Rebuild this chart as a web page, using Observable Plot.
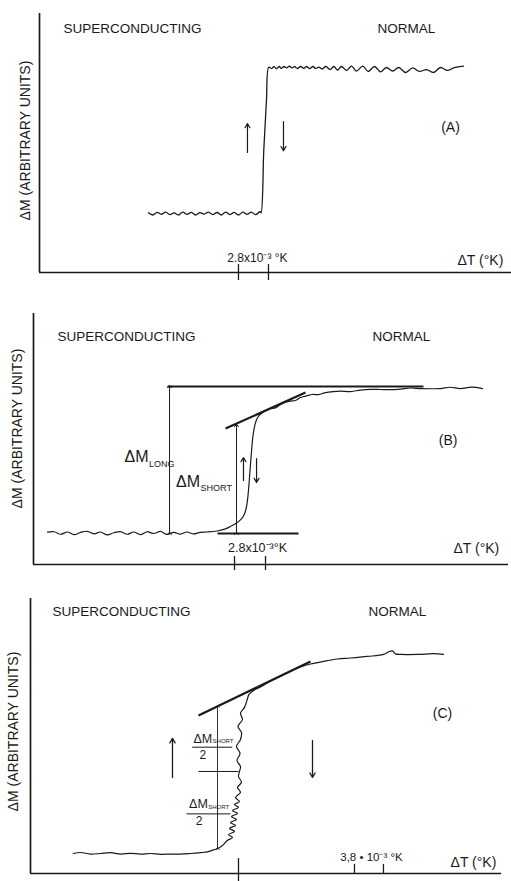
<!DOCTYPE html>
<html><head><meta charset="utf-8">
<script src="https://cdn.jsdelivr.net/npm/d3@7"></script>
<script src="https://cdn.jsdelivr.net/npm/@observablehq/plot@0.6"></script>
<style>
body{margin:0;background:#fff;}
#chart{width:511px;height:881px;overflow:hidden;background:#fff;}
#chart svg{display:block;}
</style></head><body><div id="chart"></div>
<script>
// ΔT in units of 10^-3 °K (relative), ΔM in arbitrary units (superconducting = 0, normal = 10)
const regionLabels = ["SUPERCONDUCTING", "NORMAL"];
const panelLabels = ["(A)", "(B)", "(C)"];
const yLabel = "ΔM (ARBITRARY UNITS)";
const xLabel = "ΔT (°K)";
const tickLabelAB = ["2.8x10⁻³ °K", "2.8x10⁻³°K"];
const tickLabelC = "3,8 • 10⁻³ °K";

// Panel A trace
const aT = [-8.4,-8.0,-7.6,-7.2,-6.8,-6.4,-6.0,-5.6,-5.2,-4.8,-4.4,-4.0,-3.6,-3.2,-2.8,-2.4,-2.0,-1.6,-1.2,-0.8,-0.4,0.0,0.4,0.8,1.2,1.6,2.0,
  2.1,2.36,2.61,2.83,
  3.1,3.3,3.55,3.8,4.0,4.25,4.5,4.75,5.0,5.25,5.5,5.8,6.1,6.35,6.65,6.95,7.2,7.5,7.8,8.15,8.55,8.9,9.25,9.6,10.1,10.55,11.0,11.6,12.1,12.7,13.25,13.8,14.4,14.95,15.6,16.25,16.9,17.55,18.2,18.85,19.5,20.15,21.0];
const aM = [0.05,-0.1,0.08,-0.05,0.1,-0.08,0.04,-0.1,0.1,-0.06,0.08,-0.1,0.06,-0.04,0.1,-0.08,0.07,-0.1,0.1,-0.07,0.08,-0.1,0.09,-0.06,0.1,-0.08,0.12,
  0.05,4.32,7.74,10.02,
  9.93,10.06,9.92,10.07,9.94,10.07,9.98,10.1,9.97,10.06,9.93,10.07,9.94,10.07,9.93,10.07,9.93,10.03,9.9,10.07,9.86,10.07,9.83,10.07,9.8,10.1,9.76,10.1,9.73,10.07,9.7,10.0,9.76,10.0,9.66,9.97,9.73,9.86,9.66,10.0,9.8,10.0,10.1];
const aTicks = [0, 2.8];
const aArrowT = [0.84, 4.2], aArrowFrom = [4.18, 6.3], aArrowTo = [6.16, 4.3];

// Panel B trace
const bT = [-16.9,-16.3,-15.7,-15.1,-14.5,-13.9,-13.3,-12.7,-12.1,-11.5,-10.9,-10.3,-9.7,-9.1,-8.5,-7.9,-7.3,-6.7,-6.1,-5.5,-4.9,-4.3,-3.7,-3.1,-2.5,
  -1.56,-0.81,-0.36,0.18,0.63,0.95,1.13,1.26,1.40,1.54,1.67,1.85,2.08,2.53,2.9,3.25,3.7,4.16,4.6,5.06,5.5,5.96,6.5,7.05,7.6,8.22,8.9,9.58,10.5,11.38,12.3,13.19,14.1,15.0,15.9,16.8,17.7,18.6,19.5,20.4,21.4,22.4];
const bM = [0.09,0.12,-0.05,0.1,-0.08,0.08,0.15,-0.02,0.1,-0.1,0.05,0.13,-0.05,0.1,-0.08,0.12,0.0,0.14,-0.06,0.08,-0.04,0.1,-0.03,0.08,0.1,
  0.17,0.31,0.48,0.71,0.99,1.43,2.04,2.93,4.29,5.65,6.67,7.41,7.89,8.23,8.40,8.50,8.55,8.78,8.93,9.01,9.05,9.25,9.36,9.46,9.45,9.59,9.66,9.69,9.66,9.76,9.81,9.80,9.79,9.83,9.9,9.86,9.85,9.86,9.95,9.86,9.96,9.86];
const bTicks = [0, 2.8];
const bNormalLineT = [-6.05, 17.07], bNormalLevel = 10.0;
const bSuperLineT = [-1.54, 5.78], bSuperLevel = 0;
const bTangentT = [-0.81, 6.41], bTangentM = [7.14, 9.59];
const bLongT = -5.87;
const bShortT = 0.18, bShortTop = 7.35;
const bArrowT = [0.81, 1.99], bArrowFrom = [3.61, 5.10], bArrowTo = [5.17, 3.47];

// Panel C trace
const cT = [-21.63,-20.71,-19.40,-18.09,-16.78,-15.47,-14.15,-12.84,-11.53,-10.22,-8.91,-7.60,-6.29,-4.98,-4.06,-3.28,-2.75,-2.10,-1.48,
  -0.79,-1.31,-0.52,-1.18,-0.39,-1.05,-0.26,-0.92,-0.13,-0.79,0,-0.52,0.13,-0.39,
  0.26,-0.13,0.39,0,0.13,0.26,-0.20,0.20,-0.26,0.26,0.39,-0.07,0.52,0.26,0.79,1.11,1.38,1.97,2.88,4.19,5.50,6.82,8.13,9.44,11.14,12.97,14.68,16.91,19.0,19.66,20.18,20.58,21.23,23.46,25.56,26.87];
const cM = [0,0.05,-0.03,0,0.04,-0.03,0.01,-0.03,0,-0.04,-0.03,-0.03,0,0.04,0.08,0.18,0.24,0.40,0.65,
  0.80,0.95,1.11,1.26,1.41,1.56,1.71,1.86,2.01,2.16,2.31,2.46,2.61,2.81,
  3.07,3.32,3.57,3.87,4.12,4.37,4.67,5.03,5.38,5.73,6.08,6.38,6.73,7.04,7.34,7.69,7.99,8.19,8.37,8.67,8.92,9.17,9.37,9.52,9.65,9.77,9.82,9.90,10.0,10.13,10.18,10.03,10.0,10.0,10.04,10.0];
const cTickZero = [0];
const cTicks = [15.2, 19.0];
const cTangentT = [-5.24, 9.44], cTangentM = [6.93, 9.65];
const cShortT = -2.75, cShortBottom = 0.24, cShortTop = 7.39;
const cHalfT = [-5.24, 0], cHalfM = 4.12;
const cBarUpperT = [-6.07, -0.83], cBarUpperM = 5.34;
const cBarLowerT = [-6.82, -1.05], cBarLowerM = 1.99;
const cArrowT = [-8.65, 9.70], cArrowFrom = [3.82, 5.68], cArrowTo = [5.78, 3.82];

const ink = "#1a1a1a";
const FONT = "'Liberation Sans', Arial, sans-serif";
const zip = (xs, ys) => xs.map((t, i) => ({t, m: ys[i]}));
const arrows = (ts, f, to) => ts.map((t, i) => ({t, from: f[i], to: to[i]}));
const txt = (s, x, y, o = {}) => Plot.text([s], {x, y, text: d => d, fill: ink, fontFamily: FONT, fontSize: 13.5, ...o});
const ylab = (dx, dy) => Plot.text([yLabel], {frameAnchor: "left", textAnchor: "middle", rotate: -90, dx, dy, text: d => d, fill: ink, fontFamily: FONT, fontSize: 14});
const seg = (x1, x2, y1, y2, w) => Plot.link([0], {x1, x2, y1, y2, stroke: ink, strokeWidth: w});

function panel({height, margins, xd, yd, marks}) {
  return Plot.plot({
    width: 511, height,
    marginLeft: margins[0], marginRight: margins[1], marginTop: margins[2], marginBottom: margins[3],
    x: {domain: xd, axis: null},
    y: {domain: yd, axis: null},
    style: {background: "#fff", overflow: "visible"},
    marks: [
      Plot.ruleX([xd[0]], {stroke: ink, strokeWidth: 1.7}),
      Plot.ruleY([yd[0]], {stroke: ink, strokeWidth: 1.7}),
      ...marks
    ]
  });
}

// Panel A
const aXd = [-18.57, 25.48], aYd = [-4.04, 13.70];
const A = panel({height: 290, margins: [39, 0, 13, 18], xd: aXd, yd: aYd, marks: [
  Plot.ruleX(aTicks, {y1: -3.49, y2: -4.59, stroke: ink, strokeWidth: 1.3}),
  Plot.line(zip(aT, aM), {x: "t", y: "m", curve: "catmull-rom", stroke: ink, strokeWidth: 1.3}),
  Plot.arrow(arrows(aArrowT, aArrowFrom, aArrowTo), {x1: "t", x2: "t", y1: "from", y2: "to", stroke: ink, strokeWidth: 1.2, headLength: 6}),
  txt(regionLabels[0], -16.33, 12.67, {textAnchor: "start"}),
  txt(regionLabels[1], 12.97, 12.67, {textAnchor: "start"}),
  txt(panelLabels[0], 19.79, 5.91, {fontSize: 14}),
  txt(tickLabelAB[0], 1.77, -3.08, {fontSize: 12}),
  txt(xLabel, 20.44, -3.2, {textAnchor: "start", fontSize: 14}),
  ylab(-14, -2.5)
]});

// Panel B
const bXd = [-18.16, 24.75], bYd = [-2.11, 14.97];
const B = panel({height: 290, margins: [33, 3, 23, 16], xd: bXd, yd: bYd, marks: [
  Plot.ruleX(bTicks, {y1: -1.56, y2: -2.52, stroke: ink, strokeWidth: 1.3}),
  seg(bNormalLineT[0], bNormalLineT[1], bNormalLevel, bNormalLevel, 2),
  seg(bSuperLineT[0], bSuperLineT[1], bSuperLevel, bSuperLevel, 1.8),
  seg(bTangentT[0], bTangentT[1], bTangentM[0], bTangentM[1], 2.2),
  Plot.link([0], {x1: bLongT, x2: bLongT, y1: bSuperLevel, y2: bNormalLevel, stroke: ink, strokeWidth: 1, markerStart: "arrow", markerEnd: "arrow"}),
  Plot.link([0], {x1: bShortT, x2: bShortT, y1: bSuperLevel, y2: bShortTop, stroke: ink, strokeWidth: 1, markerStart: "arrow", markerEnd: "arrow"}),
  Plot.line(zip(bT, bM), {x: "t", y: "m", curve: "catmull-rom", stroke: ink, strokeWidth: 1.2}),
  Plot.arrow(arrows(bArrowT, bArrowFrom, bArrowTo), {x1: "t", x2: "t", y1: "from", y2: "to", stroke: ink, strokeWidth: 1.2, headLength: 6}),
  txt(regionLabels[0], -15.99, 13.4, {textAnchor: "start"}),
  txt(regionLabels[1], 12.47, 13.4, {textAnchor: "start"}),
  txt(panelLabels[1], 19.29, 6.33, {fontSize: 14}),
  txt("ΔM", -7.77, 5.19, {textAnchor: "end", fontSize: 16}),
  txt("LONG", -7.72, 4.74, {textAnchor: "start", fontSize: 9}),
  txt("ΔM", -3.12, 3.49, {textAnchor: "end", fontSize: 16}),
  txt("SHORT", -3.07, 3.11, {textAnchor: "start", fontSize: 9}),
  txt(tickLabelAB[1], 2.08, -1.02, {fontSize: 12.5}),
  txt(xLabel, 19.78, -1.02, {textAnchor: "start", fontSize: 14}),
  ylab(-16, -10.5)
]});

// Panel C
const cXd = [-27.26, 34.47], cYd = [-1.005, 12.81];
const C = panel({height: 301, margins: [30, 10, 18, 8], xd: cXd, yd: cYd, marks: [
  Plot.ruleX(cTickZero, {y1: -0.25, y2: -1.45, stroke: ink, strokeWidth: 1.3}),
  Plot.ruleX(cTicks, {y1: -0.55, y2: -1.005, stroke: ink, strokeWidth: 1.3}),
  seg(cTangentT[0], cTangentT[1], cTangentM[0], cTangentM[1], 2.2),
  Plot.link([0], {x1: cShortT, x2: cShortT, y1: cShortBottom, y2: cShortTop, stroke: ink, strokeWidth: 0.9, markerStart: "arrow", markerEnd: "arrow"}),
  seg(cHalfT[0], cHalfT[1], cHalfM, cHalfM, 1),
  seg(cBarUpperT[0], cBarUpperT[1], cBarUpperM, cBarUpperM, 1),
  seg(cBarLowerT[0], cBarLowerT[1], cBarLowerM, cBarLowerM, 1),
  Plot.line(zip(cT, cM), {x: "t", y: "m", curve: "catmull-rom", stroke: ink, strokeWidth: 1.2}),
  Plot.arrow(arrows(cArrowT, cArrowFrom, cArrowTo), {x1: "t", x2: "t", y1: "from", y2: "to", stroke: ink, strokeWidth: 1.3, headLength: 6}),
  txt(regionLabels[0], -24.38, 12.16, {textAnchor: "start"}),
  txt(regionLabels[1], 17.04, 12.16, {textAnchor: "start"}),
  txt(panelLabels[2], 26.74, 7.02, {fontSize: 14}),
  txt("ΔM", -3.45, 5.76, {textAnchor: "end", fontSize: 12.5}),
  txt("SHORT", -3.4, 5.64, {textAnchor: "start", fontSize: 6}),
  txt("2", -4.68, 4.92, {fontSize: 12}),
  txt("ΔM", -4.02, 2.50, {textAnchor: "end", fontSize: 12.5}),
  txt("SHORT", -3.97, 2.33, {textAnchor: "start", fontSize: 6}),
  txt("2", -5.15, 1.62, {fontSize: 12}),
  txt(tickLabelC, 17.43, -0.2, {fontSize: 11.5}),
  txt(xLabel, 27.79, -0.45, {textAnchor: "start", fontSize: 14}),
  ylab(-17, -4.5)
]});

const root = document.getElementById("chart");
root.append(A, B, C);
</script>
</body></html>
